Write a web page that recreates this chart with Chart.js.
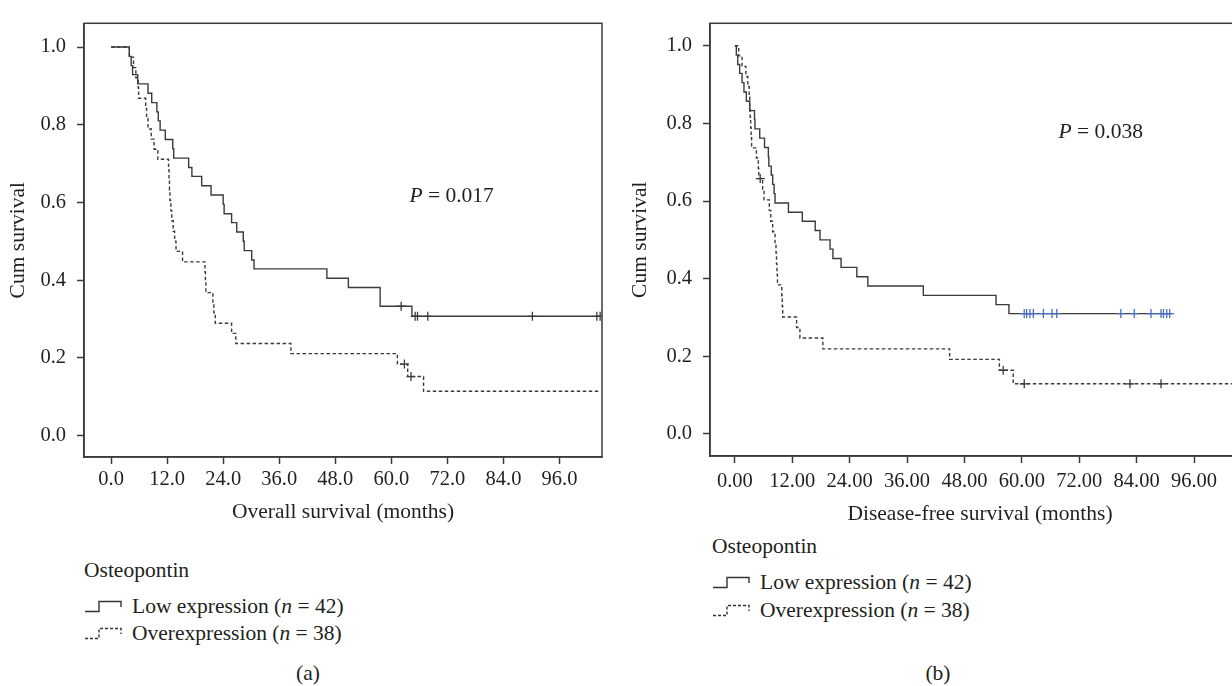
<!DOCTYPE html>
<html lang="en">
<head>
<meta charset="UTF-8">
<title>Osteopontin survival curves</title>
<script src="https://cdn.jsdelivr.net/npm/chart.js"></script>
<style>
    html, body { margin: 0; padding: 0; background: #fff; width: 1232px; height: 686px; overflow: hidden; }
    body { position: relative; font-family: "Liberation Serif", "DejaVu Serif", serif; color: #231f20; }
    canvas { position: absolute; top: 0; }
    #chartA { left: 0; }
    #chartB { left: 620px; }
    .txt { position: absolute; font-size: 21.5px; height: 24px; line-height: 24px; white-space: nowrap; }
    .sym { position: absolute; }
    .cap { position: absolute; font-size: 21.5px; height: 24px; line-height: 24px; width: 60px; text-align: center; }
</style>
</head>
<body>
    <canvas id="chartA" width="616" height="529"></canvas>
    <canvas id="chartB" width="660" height="531"></canvas>

    <!-- legend (a) -->
    <div class="txt" style="left:84px; top:558px;">Osteopontin</div>
    <svg class="sym" style="left:85px; top:598px;" width="38" height="16"><path d="M0 13.5 H14 V3.5 H36 V9" fill="none" stroke="#333" stroke-width="1.4"/></svg>
    <div class="txt" style="left:132px; top:594px;">Low expression (<i>n</i> = 42)</div>
    <svg class="sym" style="left:85px; top:625px;" width="38" height="16"><path d="M0 13.5 H14 V3.5 H36 V9" fill="none" stroke="#333" stroke-width="1.4" stroke-dasharray="3 2"/></svg>
    <div class="txt" style="left:132px; top:621px;">Overexpression (<i>n</i> = 38)</div>
    <div class="cap" style="left:278px; top:661px;">(a)</div>

    <!-- legend (b) -->
    <div class="txt" style="left:712px; top:534px;">Osteopontin</div>
    <svg class="sym" style="left:713px; top:574px;" width="38" height="16"><path d="M0 13.5 H14 V3.5 H36 V9" fill="none" stroke="#333" stroke-width="1.4"/></svg>
    <div class="txt" style="left:760px; top:570px;">Low expression (<i>n</i> = 42)</div>
    <svg class="sym" style="left:713px; top:602px;" width="38" height="16"><path d="M0 13.5 H14 V3.5 H36 V9" fill="none" stroke="#333" stroke-width="1.4" stroke-dasharray="3 2"/></svg>
    <div class="txt" style="left:760px; top:598px;">Overexpression (<i>n</i> = 38)</div>
    <div class="cap" style="left:908px; top:661px;">(b)</div>

<script>
    // ---- data ----
    // (a) overall survival, months / cumulative survival
    const lowA_t = [0, 3.9, 4.3, 4.6, 5.7, 7.9, 8.7, 9.8, 10.1, 10.5, 11.6, 13.2, 13.4, 16.6, 17.3, 19.4, 21.4, 24.0, 24.2, 25.8, 26.9, 28.3, 28.5, 30.1, 30.6, 46.2, 50.8, 57.6, 64.4, 104.7];
    const lowA_s = [1, 0.976, 0.952, 0.929, 0.905, 0.881, 0.857, 0.833, 0.810, 0.786, 0.762, 0.738, 0.714, 0.690, 0.667, 0.643, 0.619, 0.595, 0.571, 0.548, 0.524, 0.500, 0.476, 0.452, 0.429, 0.405, 0.381, 0.333, 0.307, 0.307];
    const overA_t = [0, 3.9, 4.8, 5.3, 5.8, 5.9, 7.4, 7.6, 7.9, 8.6, 9.2, 10.0, 12.3, 12.4, 12.5, 12.6, 12.8, 13.0, 13.3, 13.6, 13.9, 15.3, 20.1, 20.2, 20.3, 21.8, 22.0, 22.3, 25.8, 26.7, 38.5, 61.3, 63.5, 66.9, 104.7];
    const overA_s = [1, 0.974, 0.947, 0.921, 0.895, 0.868, 0.842, 0.816, 0.789, 0.763, 0.737, 0.711, 0.684, 0.658, 0.632, 0.605, 0.579, 0.553, 0.526, 0.500, 0.474, 0.447, 0.421, 0.395, 0.368, 0.342, 0.316, 0.289, 0.263, 0.237, 0.211, 0.184, 0.152, 0.114, 0.114];
    const censLowA_t = [62.1, 65.1, 65.6, 67.8, 90.2, 104.0, 104.7];
    const censLowA_s = [0.333, 0.307, 0.307, 0.307, 0.307, 0.307, 0.307];
    const censOverA_t = [62.8, 64.2];
    const censOverA_s = [0.184, 0.152];

    // (b) disease-free survival
    const lowB_t = [0, 0.3, 0.6, 1.0, 1.5, 1.9, 2.4, 3.1, 4.1, 4.2, 5.2, 6.2, 7.0, 7.1, 7.6, 7.9, 8.2, 8.4, 11.2, 14.1, 16.8, 17.8, 19.9, 20.5, 22.2, 25.5, 27.8, 39.4, 54.6, 57.3, 91.4];
    const lowB_s = [1, 0.976, 0.952, 0.929, 0.905, 0.881, 0.857, 0.833, 0.810, 0.786, 0.762, 0.738, 0.714, 0.690, 0.667, 0.643, 0.619, 0.595, 0.571, 0.548, 0.524, 0.500, 0.476, 0.452, 0.429, 0.405, 0.381, 0.357, 0.333, 0.310, 0.310];
    const overB_t = [0, 0.8, 1.5, 2.3, 2.7, 3.0, 3.1, 3.2, 3.3, 3.4, 3.5, 4.5, 4.9, 5.0, 5.8, 6.1, 7.2, 7.5, 7.9, 8.4, 8.6, 8.7, 8.8, 8.9, 9.8, 9.9, 10.0, 12.9, 13.6, 18.4, 44.9, 55.3, 58.2, 112];
    const overB_s = [1, 0.974, 0.947, 0.921, 0.895, 0.868, 0.842, 0.816, 0.789, 0.763, 0.737, 0.711, 0.684, 0.658, 0.631, 0.603, 0.576, 0.548, 0.521, 0.493, 0.466, 0.438, 0.411, 0.384, 0.356, 0.329, 0.301, 0.274, 0.247, 0.219, 0.192, 0.164, 0.129, 0.129];
    const censLowB_t = [60.5, 61.0, 61.7, 62.4, 64.5, 66.3, 67.3, 80.7, 83.5, 87.0, 89.1, 89.6, 90.3, 90.9];
    const censLowB_s = [0.310, 0.310, 0.310, 0.310, 0.310, 0.310, 0.310, 0.310, 0.310, 0.310, 0.310, 0.310, 0.310, 0.310];
    const censOverB_t = [5.3, 56.1, 60.5, 82.6, 89.1];
    const censOverB_s = [0.658, 0.164, 0.129, 0.129, 0.129];

    // ticks
    const xTicks = [0, 12, 24, 36, 48, 60, 72, 84, 96];
    const yTicks = [0, 0.2, 0.4, 0.6, 0.8, 1.0];

    const ink = '#231f20';
    const lineInk = '#3b3b3b';
    const axisInk = '#3a3a3a';
    const serif = '"Liberation Serif", "DejaVu Serif", serif';

    Chart.defaults.font.family = serif;
    Chart.defaults.font.size = 20.5;
    Chart.defaults.color = ink;

    const pts = (t, s) => t.map((v, i) => ({ x: v, y: s[i] }));

    // plot frame + p-value text
    const framePlugin = {
        id: 'frame',
        afterDraw(chart, args, opts) {
            const { ctx, chartArea: a, scales } = chart;
            ctx.save();
            ctx.strokeStyle = axisInk;
            ctx.lineWidth = 1.5;
            ctx.strokeRect(a.left, a.top, a.right - a.left, a.bottom - a.top);

            const px = scales.x.getPixelForValue(opts.at[0]);
            const py = scales.y.getPixelForValue(opts.at[1]);
            const rest = ' = ' + opts.p;
            ctx.font = 'italic 21.5px ' + serif;
            const w1 = ctx.measureText('P').width;
            ctx.font = '21.5px ' + serif;
            const w2 = ctx.measureText(rest).width;
            const x0 = px - (w1 + w2) / 2;
            ctx.fillStyle = ink;
            ctx.textBaseline = 'middle';
            ctx.font = 'italic 21.5px ' + serif;
            ctx.fillText('P', x0, py);
            ctx.font = '21.5px ' + serif;
            ctx.fillText(rest, x0 + w1, py);
            ctx.restore();
        }
    };

    function makeChart(id, cfg) {
        const curve = (data, dash) => ({
            type: 'line', data, stepped: 'before', borderColor: lineInk, borderWidth: 1.4,
            borderDash: dash, pointRadius: 0, fill: false, order: 2
        });
        const marks = (data, color) => ({
            type: 'scatter', data, pointStyle: 'cross', pointRadius: 4.5, borderColor: color,
            borderWidth: 1.3, showLine: false, order: 1
        });
        return new Chart(document.getElementById(id), {
            type: 'line',
            data: {
                datasets: [
                    curve(cfg.low, []),
                    curve(cfg.over, [3.5, 2.5]),
                    marks(cfg.censLow, cfg.censLowColor),
                    marks(cfg.censOver, axisInk)
                ]
            },
            options: {
                responsive: false,
                animation: false,
                events: [],
                layout: { padding: { top: 10, right: cfg.padRight, bottom: 0, left: 0 } },
                plugins: {
                    legend: { display: false },
                    tooltip: { enabled: false },
                    frame: { at: cfg.pAt, p: cfg.p }
                },
                scales: {
                    x: {
                        type: 'linear', min: cfg.xMin, max: cfg.xMax,
                        afterBuildTicks: s => { s.ticks = xTicks.map(v => ({ value: v })); },
                        afterFit: s => { s.height = cfg.xAxisH; },
                        ticks: { maxRotation: 0, autoSkip: false, padding: cfg.xTickPad,
                                 callback: v => Number(v).toFixed(cfg.xDigits) },
                        grid: { drawOnChartArea: false, drawTicks: true, tickLength: 7, tickColor: axisInk, tickWidth: 1.5 },
                        border: { display: true, color: axisInk, width: 1.5 },
                        title: { display: true, text: cfg.xTitle, font: { size: 21.5 }, padding: { top: 0, bottom: 4 } }
                    },
                    y: {
                        type: 'linear', min: cfg.yMin, max: cfg.yMax,
                        afterBuildTicks: s => { s.ticks = yTicks.map(v => ({ value: v })); },
                        afterFit: s => { s.width = cfg.yAxisW; },
                        ticks: { padding: 11, callback: v => Number(v).toFixed(1) },
                        grid: { drawOnChartArea: false, drawTicks: true, tickLength: 7, tickColor: axisInk, tickWidth: 1.5 },
                        border: { display: true, color: axisInk, width: 1.5 },
                        title: { display: true, text: 'Cum survival', font: { size: 21.5 }, padding: { top: cfg.yTitlePad, bottom: 0 } }
                    }
                }
            },
            plugins: [framePlugin]
        });
    }

    makeChart('chartA', {
        low: pts(lowA_t, lowA_s), over: pts(overA_t, overA_s),
        censLow: pts(censLowA_t, censLowA_s), censOver: pts(censOverA_t, censOverA_s),
        censLowColor: axisInk,
        xMin: -5.8, xMax: 105.1, yMin: -0.055, yMax: 1.061,
        xDigits: 1, xTitle: 'Overall survival (months)',
        xAxisH: 72, xTickPad: 3, yAxisW: 84, yTitlePad: 5, padRight: 14,
        pAt: [72.9, 0.616], p: '0.017'
    });

    makeChart('chartB', {
        low: pts(lowB_t, lowB_s), over: pts(overB_t, overB_s),
        censLow: pts(censLowB_t, censLowB_s), censOver: pts(censOverB_t, censOverB_s),
        censLowColor: '#4a6cc2',
        xMin: -5.2, xMax: 107.7, yMin: -0.057, yMax: 1.058,
        xDigits: 2, xTitle: 'Disease-free survival (months)',
        xAxisH: 75, xTickPad: 6, yAxisW: 90, yTitlePad: 7, padRight: 30,
        pAt: [76.5, 0.778], p: '0.038'
    });
</script>
</body>
</html>
